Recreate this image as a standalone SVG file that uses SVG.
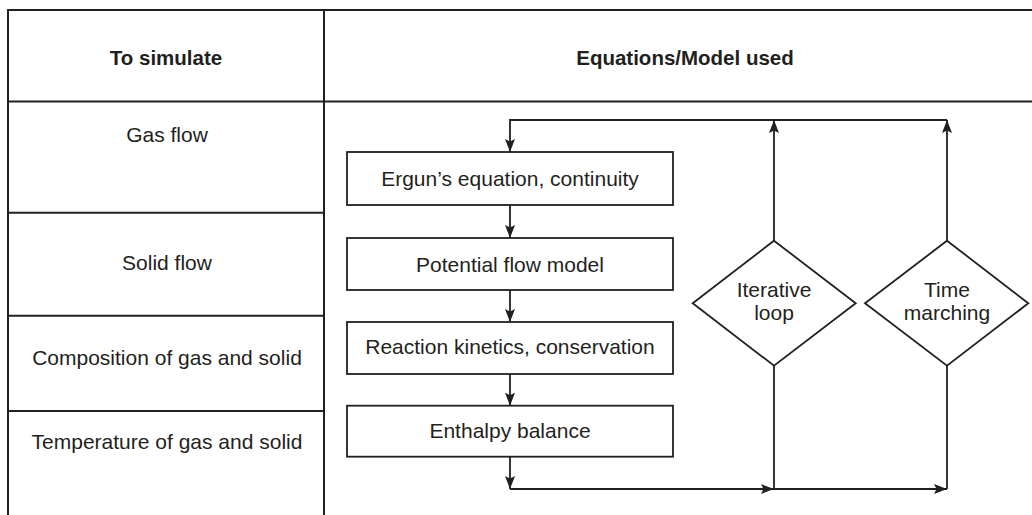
<svg xmlns="http://www.w3.org/2000/svg" width="1032" height="515" viewBox="0 0 1032 515">
  <style>
    .grid { stroke: #231f20; stroke-width: 2; fill: none; }
    .shape { stroke: #231f20; stroke-width: 1.8; fill: #ffffff; }
    .wire { stroke: #231f20; stroke-width: 1.8; fill: none; }
    .head { font-family: "Liberation Sans", Arial, Helvetica, sans-serif; font-size: 20.5px; font-weight: bold; fill: #231f20; text-anchor: middle; }
    .label { font-family: "Liberation Sans", Arial, Helvetica, sans-serif; font-size: 21px; fill: #231f20; text-anchor: middle; }
  </style>
  <defs>
    <marker id="arrow" viewBox="0 0 13 10" refX="13" refY="5" markerWidth="13" markerHeight="10" markerUnits="userSpaceOnUse" orient="auto">
      <path d="M0,0 L13,5 L0,10 L2.5,5 Z" fill="#231f20"/>
    </marker>
  </defs>

  <rect width="1032" height="515" fill="#ffffff"/>

  <!-- table frame -->
  <g id="table">
    <line class="grid" x1="8" y1="10" x2="1032" y2="10"/>
    <line class="grid" x1="8" y1="101.5" x2="1032" y2="101.5"/>
    <line class="grid" x1="8" y1="9" x2="8" y2="515"/>
    <line class="grid" x1="324" y1="9" x2="324" y2="515"/>
    <line class="grid" x1="8" y1="212.7" x2="324" y2="212.7"/>
    <line class="grid" x1="8" y1="315.7" x2="324" y2="315.7"/>
    <line class="grid" x1="8" y1="411" x2="324" y2="411"/>
  </g>

  <g id="headers">
    <text class="head" x="166" y="65">To simulate</text>
    <text class="head" x="685" y="65">Equations/Model used</text>
  </g>

  <g id="rows">
    <text class="label" x="167" y="141.7">Gas flow</text>
    <text class="label" x="167" y="270">Solid flow</text>
    <text class="label" x="167" y="365">Composition of gas and solid</text>
    <text class="label" x="167" y="449.3">Temperature of gas and solid</text>
  </g>

  <!-- connectors -->
  <g id="connectors">
    <polyline class="wire" points="774,240.7 774,120" marker-end="url(#arrow)"/>
    <polyline class="wire" points="947,240.7 947,120" marker-end="url(#arrow)"/>
    <polyline class="wire" points="947,120 510,120 510,152" marker-end="url(#arrow)"/>
    <line class="wire" x1="510" y1="205" x2="510" y2="238" marker-end="url(#arrow)"/>
    <line class="wire" x1="510" y1="290" x2="510" y2="322" marker-end="url(#arrow)"/>
    <line class="wire" x1="510" y1="374" x2="510" y2="405.7" marker-end="url(#arrow)"/>
    <line class="wire" x1="510" y1="456.7" x2="510" y2="489" marker-end="url(#arrow)"/>
    <line class="wire" x1="510" y1="489" x2="774" y2="489" marker-end="url(#arrow)"/>
    <line class="wire" x1="774" y1="489" x2="947" y2="489" marker-end="url(#arrow)"/>
    <line class="wire" x1="774" y1="365.7" x2="774" y2="489"/>
    <line class="wire" x1="947" y1="365.7" x2="947" y2="489"/>
  </g>

  <g id="ergun">
    <rect class="shape" x="347" y="152" width="326" height="53"/>
    <text class="label" x="510" y="186">Ergun’s equation, continuity</text>
  </g>
  <g id="potential-flow">
    <rect class="shape" x="347" y="238" width="326" height="52"/>
    <text class="label" x="510" y="271.7">Potential flow model</text>
  </g>
  <g id="reaction">
    <rect class="shape" x="347" y="322" width="326" height="52"/>
    <text class="label" x="510" y="354">Reaction kinetics, conservation</text>
  </g>
  <g id="enthalpy">
    <rect class="shape" x="347" y="405.7" width="326" height="51"/>
    <text class="label" x="510" y="437.5">Enthalpy balance</text>
  </g>

  <g id="iterative-loop">
    <polygon class="shape" points="774,240.7 855.7,303.3 774,365.7 692.7,303.3"/>
    <text class="label" x="774" y="296.7">Iterative</text>
    <text class="label" x="774" y="320">loop</text>
  </g>
  <g id="time-marching">
    <polygon class="shape" points="947,240.7 1028.3,303.3 947,365.7 865,303.3"/>
    <text class="label" x="947" y="296.7">Time</text>
    <text class="label" x="947" y="320">marching</text>
  </g>
</svg>
